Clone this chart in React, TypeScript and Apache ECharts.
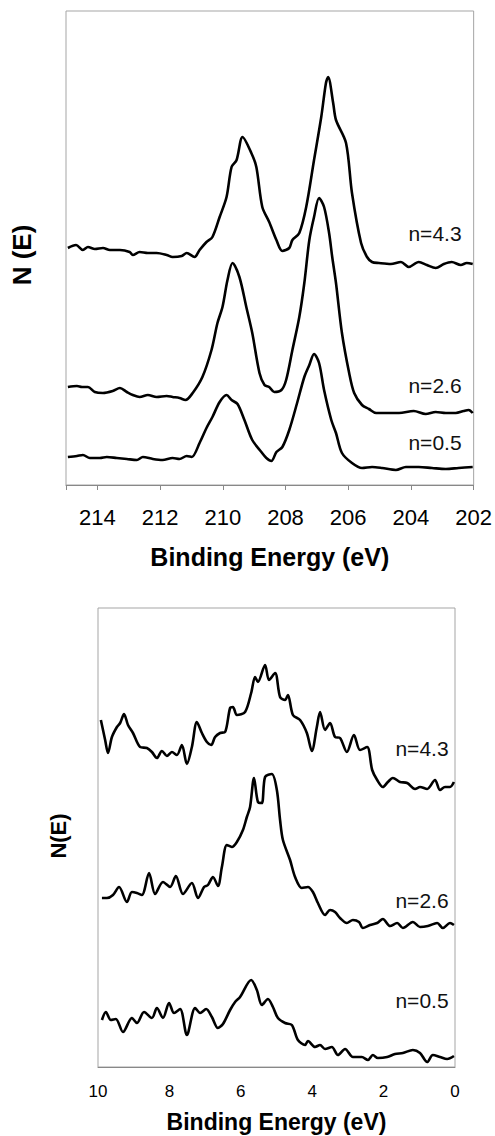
import React, { useEffect, useRef } from "react";
import * as echarts from "echarts";

// Upper panel: core-level region, binding energy (eV)
const topEnergy43 = [214.94, 214.68, 214.46, 214.3, 214.08, 213.82, 213.6, 213.28, 212.97, 212.87, 212.65, 212.39, 212.11, 211.79, 211.6, 211.31, 211.15, 210.9, 210.74, 210.52, 210.33, 210.1, 209.88, 209.72, 209.56, 209.37, 209.09, 208.93, 208.74, 208.52, 208.29, 208.1, 207.88, 207.78, 207.56, 207.34, 207.09, 206.86, 206.71, 206.64, 206.48, 206.39, 206.07, 205.88, 205.59, 205.4, 205.24, 205.02, 204.64, 204.32, 204.07, 203.75, 203.49, 203.21, 202.95, 202.7, 202.41, 202.22, 202.03];
const topN43 = [237, 240, 235, 238, 236, 237, 235, 235, 233, 230, 233, 232, 232, 230, 228, 229, 232, 228, 235, 243, 248, 268, 288, 318, 325, 348, 332, 318, 278, 263, 245, 234, 237, 245, 252, 278, 325, 368, 402, 408, 382, 365, 342, 292, 242, 228, 223, 222, 221, 223, 218, 223, 220, 217, 221, 223, 220, 222, 221];

const topEnergy26 = [214.94, 214.65, 214.49, 214.3, 214.08, 213.82, 213.51, 213.28, 213.06, 212.87, 212.65, 212.39, 212.11, 211.79, 211.6, 211.38, 211.19, 210.96, 210.65, 210.36, 210.17, 210.01, 209.85, 209.69, 209.47, 209.25, 209.06, 208.83, 208.67, 208.52, 208.36, 208.13, 207.98, 207.78, 207.56, 207.4, 207.24, 207.09, 206.93, 206.77, 206.61, 206.51, 206.39, 206.2, 205.97, 205.81, 205.56, 205.34, 205.11, 204.8, 204.38, 203.91, 203.53, 203.21, 202.89, 202.57, 202.32, 202.16, 202.03];
const topN26 = [98, 99, 98, 98, 93, 92, 94, 97, 93, 90, 88, 90, 88, 89, 88, 87, 85, 92, 108, 135, 162, 178, 205, 222, 208, 178, 152, 112, 100, 98, 93, 95, 105, 135, 168, 202, 245, 268, 287, 278, 252, 228, 202, 152, 112, 92, 80, 76, 72, 72, 72, 74, 71, 73, 72, 72, 74, 75, 72];

const topEnergy05 = [214.94, 214.65, 214.46, 214.24, 213.92, 213.7, 213.38, 213.06, 212.74, 212.55, 212.23, 211.92, 211.6, 211.38, 211.15, 210.99, 210.74, 210.52, 210.33, 210.1, 209.88, 209.72, 209.53, 209.31, 209.06, 208.77, 208.61, 208.45, 208.29, 208.1, 207.88, 207.63, 207.4, 207.24, 207.09, 206.93, 206.77, 206.54, 206.39, 206.2, 205.88, 205.56, 205.24, 204.92, 204.48, 204.16, 203.75, 203.33, 202.89, 202.48, 202.03];
const topN05 = [28, 29, 30, 27, 27, 28, 27, 26, 25, 28, 26, 25, 27, 26, 29, 28, 42, 57, 68, 83, 90, 85, 81, 65, 45, 33, 27, 24, 33, 38, 55, 82, 108, 120, 131, 122, 95, 65, 52, 32, 22, 17, 18, 17, 15, 18, 18, 17, 16, 17, 18];

// Lower panel: valence band region, binding energy (eV)
const botEnergy43 = [9.92, 9.8, 9.72, 9.61, 9.47, 9.38, 9.27, 9.16, 9.02, 8.82, 8.63, 8.49, 8.35, 8.21, 8.07, 7.93, 7.79, 7.65, 7.51, 7.37, 7.23, 7.09, 6.95, 6.83, 6.72, 6.58, 6.44, 6.3, 6.22, 6.11, 5.88, 5.71, 5.6, 5.52, 5.32, 5.21, 5.04, 4.9, 4.76, 4.68, 4.54, 4.34, 4.15, 4.01, 3.87, 3.78, 3.64, 3.5, 3.36, 3.22, 3.03, 2.83, 2.66, 2.46, 2.32, 2.18, 2.02, 1.88, 1.74, 1.54, 1.34, 1.12, 0.98, 0.78, 0.56, 0.42, 0.28, 0.14, 0.03];
const botN43 = [347, 327, 314, 330, 340, 344, 353, 342, 334, 320, 319, 315, 309, 316, 311, 315, 312, 322, 303, 320, 345, 334, 325, 322, 330, 334, 335, 359, 360, 352, 355, 374, 390, 385, 402, 387, 394, 370, 367, 372, 352, 347, 334, 316, 340, 355, 337, 344, 330, 329, 315, 332, 317, 320, 297, 287, 280, 285, 289, 285, 284, 278, 280, 278, 287, 277, 280, 280, 285];

const botEnergy26 = [9.89, 9.75, 9.58, 9.41, 9.19, 9.05, 8.91, 8.77, 8.57, 8.4, 8.18, 7.98, 7.82, 7.62, 7.37, 7.2, 7.03, 6.92, 6.78, 6.64, 6.53, 6.39, 6.25, 6.11, 5.94, 5.83, 5.74, 5.63, 5.52, 5.41, 5.32, 5.13, 4.99, 4.9, 4.82, 4.62, 4.48, 4.29, 4.12, 3.98, 3.84, 3.64, 3.5, 3.36, 3.22, 3.03, 2.86, 2.69, 2.58, 2.38, 2.18, 2.02, 1.82, 1.62, 1.46, 1.18, 0.98, 0.76, 0.5, 0.34, 0.14, 0.03];
const botN26 = [169, 169, 172, 180, 165, 175, 174, 172, 194, 173, 185, 180, 191, 173, 184, 169, 180, 182, 190, 181, 200, 222, 220, 225, 237, 250, 260, 289, 265, 264, 290, 293, 277, 247, 227, 207, 190, 179, 180, 175, 164, 152, 157, 155, 149, 144, 147, 145, 139, 142, 144, 148, 141, 144, 139, 145, 140, 141, 144, 139, 144, 142];

const botEnergy05 = [9.89, 9.78, 9.64, 9.5, 9.3, 9.05, 8.91, 8.71, 8.49, 8.35, 8.18, 8.01, 7.87, 7.7, 7.51, 7.28, 7.14, 6.97, 6.81, 6.64, 6.5, 6.3, 6.16, 6.02, 5.71, 5.55, 5.41, 5.24, 5.1, 4.96, 4.76, 4.57, 4.4, 4.2, 4.12, 3.92, 3.78, 3.64, 3.45, 3.28, 3.08, 2.86, 2.61, 2.44, 2.3, 2.16, 1.9, 1.68, 1.46, 1.18, 0.98, 0.78, 0.62, 0.42, 0.22, 0.03];
const botN05 = [47, 55, 47, 48, 35, 49, 44, 55, 49, 59, 49, 64, 54, 58, 32, 59, 54, 58, 50, 39, 43, 57, 65, 70, 87, 77, 62, 68, 60, 49, 44, 42, 27, 22, 26, 20, 22, 18, 20, 12, 18, 10, 10, 7, 12, 9, 10, 13, 14, 17, 14, 5, 12, 10, 8, 11];

const labels = ["n=4.3", "n=2.6", "n=0.5"];
const topTicks = [202, 204, 206, 208, 210, 212, 214];
const botTicks = [0, 2, 4, 6, 8, 10];

const FONT = "'Liberation Sans', Arial, Helvetica, sans-serif";

const pairs = (xs: number[], ys: number[]) => xs.map((x, i) => [x, ys[i]]);

function lineSeries(xi: number, xs: number[], ys: number[]) {
  return {
    type: "line",
    xAxisIndex: xi,
    yAxisIndex: xi,
    data: pairs(xs, ys),
    showSymbol: false,
    smooth: 0.3,
    lineStyle: { color: "#000", width: 2.6 },
    silent: true,
  };
}

function labelText(x: number, y: number, text: string) {
  return {
    type: "text",
    x,
    y,
    style: {
      text,
      fill: "#111",
      font: `21px ${FONT}`,
      align: "center",
      verticalAlign: "middle",
    },
  };
}

export default function App() {
  const ref = useRef<HTMLDivElement>(null);

  useEffect(() => {
    if (!ref.current) return;
    const chart = echarts.init(ref.current, null, { renderer: "svg" });
    chart.setOption({
      animation: false,
      backgroundColor: "#fff",
      grid: [
        { left: 66, top: 11, width: 409, height: 474, show: true, borderColor: "#a5a5a5", borderWidth: 1 },
        { left: 98, top: 608, width: 357, height: 459, show: true, borderColor: "#a5a5a5", borderWidth: 1 },
      ],
      xAxis: [
        {
          gridIndex: 0,
          type: "value",
          min: 202,
          max: 215,
          interval: 2,
          inverse: true,
          splitLine: { show: false },
          axisLine: { show: true, lineStyle: { color: "#888", width: 1 } },
          axisTick: { show: true, inside: false, length: 5, lineStyle: { color: "#888" } },
          axisLabel: {
            margin: 21,
            color: "#000",
            fontSize: 22,
            fontFamily: FONT,
            formatter: (v: number) => (topTicks.includes(v) ? String(v) : ""),
          },
          name: "Binding Energy (eV)",
          nameLocation: "middle",
          nameGap: 59,
          nameTextStyle: { color: "#000", fontSize: 25, fontWeight: "bold", fontFamily: FONT },
        },
        {
          gridIndex: 1,
          type: "value",
          min: 0,
          max: 10,
          interval: 2,
          inverse: true,
          splitLine: { show: false },
          axisLine: { show: true, lineStyle: { color: "#888", width: 1 } },
          axisTick: { show: false },
          axisLabel: {
            margin: 16,
            color: "#000",
            fontSize: 17,
            fontFamily: FONT,
            formatter: (v: number) => (botTicks.includes(v) ? String(v) : ""),
          },
          name: "Binding Energy (eV)",
          nameLocation: "middle",
          nameGap: 43,
          nameTextStyle: { color: "#000", fontSize: 23, fontWeight: "bold", fontFamily: FONT },
        },
      ],
      yAxis: [
        { gridIndex: 0, type: "value", min: 0, max: 474, show: false, splitLine: { show: false } },
        { gridIndex: 1, type: "value", min: 0, max: 459, show: false, splitLine: { show: false } },
      ],
      series: [
        lineSeries(0, topEnergy43, topN43),
        lineSeries(0, topEnergy26, topN26),
        lineSeries(0, topEnergy05, topN05),
        lineSeries(1, botEnergy43, botN43),
        lineSeries(1, botEnergy26, botN26),
        lineSeries(1, botEnergy05, botN05),
      ],
      graphic: [
        {
          type: "text",
          x: 22,
          y: 255,
          rotation: Math.PI / 2,
          style: {
            text: "N (E)",
            fill: "#000",
            font: `bold 26px ${FONT}`,
            align: "center",
            verticalAlign: "middle",
          },
        },
        {
          type: "text",
          x: 58,
          y: 836,
          rotation: Math.PI / 2,
          style: {
            text: "N(E)",
            fill: "#000",
            font: `bold 22px ${FONT}`,
            align: "center",
            verticalAlign: "middle",
          },
        },
        labelText(435, 233, labels[0]),
        labelText(435, 385, labels[1]),
        labelText(435, 442, labels[2]),
        labelText(422, 748, labels[0]),
        labelText(422, 900, labels[1]),
        labelText(422, 1000, labels[2]),
      ],
    });
    return () => chart.dispose();
  }, []);

  return (
    <div
      ref={ref}
      style={{ position: "absolute", left: 0, top: 0, width: 495, height: 1136 }}
    />
  );
}
